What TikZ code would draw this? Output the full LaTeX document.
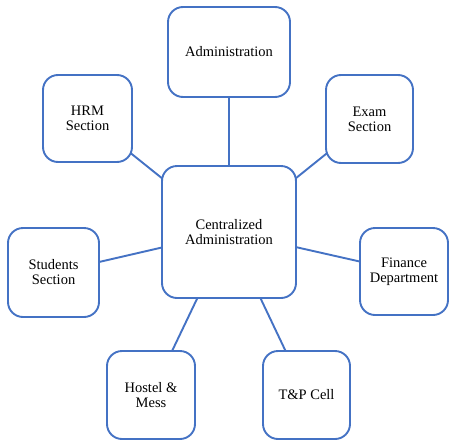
\documentclass[tikz,border=0pt]{standalone}
\usepackage{fontspec}
\setmainfont{Liberation Serif}
\usetikzlibrary{backgrounds}
\definecolor{boxblue}{HTML}{4472C4}
\begin{document}
\begin{tikzpicture}[x=1pt,y=-1pt,
  unit/.style={draw=boxblue,line width=1.9pt,fill=white,rounded corners=15pt,
    align=center,inner sep=0pt,font=\fontsize{14.5}{15}\selectfont},
  link/.style={draw=boxblue,line width=1.9pt}]
\useasboundingbox (0,0) rectangle (449,442);
\node[unit,minimum width=134pt,minimum height=132pt] (cent) at (229,232) {Centralized\\Administration};
\node[unit,minimum width=122pt,minimum height=90pt] (adm) at (229,52) {Administration};
\node[unit,minimum width=89pt,minimum height=87pt] (hrm) at (87.5,118.5) {HRM\\Section};
\node[unit,minimum width=87pt,minimum height=88pt] (exam) at (369.5,119) {Exam\\Section};
\node[unit,minimum width=91pt,minimum height=89pt] (stud) at (53.5,272.5) {Students\\Section};
\node[unit,minimum width=88pt,minimum height=87pt] (fin) at (404,271.5) {Finance\\Department};
\node[unit,minimum width=88pt,minimum height=88pt] (host) at (151,395) {Hostel \&\\Mess};
\node[unit,minimum width=87pt,minimum height=88pt] (tp) at (306.5,395) {T\&P Cell};
\begin{scope}[on background layer]
\draw[link] (cent.center) -- (adm.center);
\draw[link] (cent.center) -- (hrm.center);
\draw[link] (cent.center) -- (exam.center);
\draw[link] (cent.center) -- (stud.center);
\draw[link] (cent.center) -- (fin.center);
\draw[link] (cent.center) -- (host.center);
\draw[link] (cent.center) -- (tp.center);
\end{scope}
\end{tikzpicture}
\end{document}
